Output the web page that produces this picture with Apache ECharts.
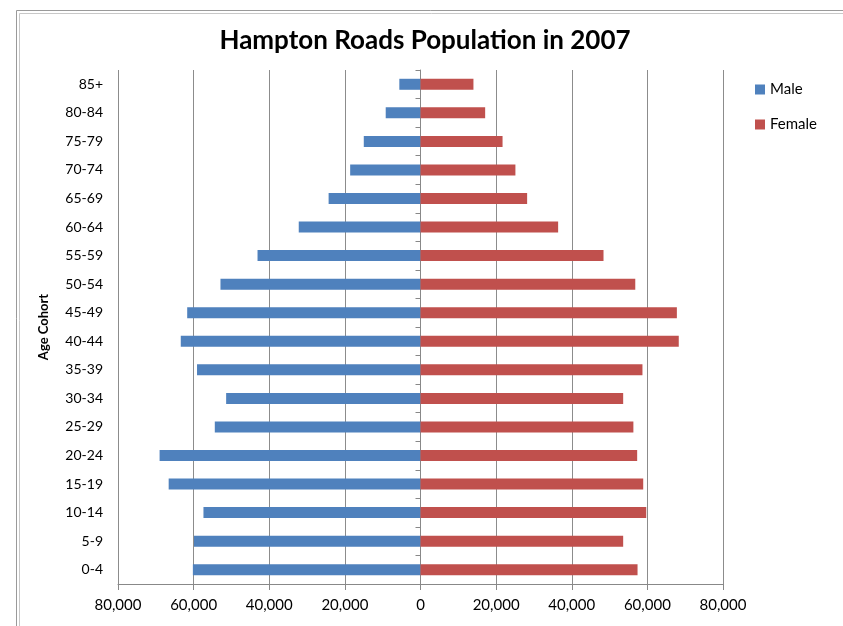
<!DOCTYPE html>
<html>
<head>
<meta charset="utf-8">
<script src="https://cdn.jsdelivr.net/npm/echarts@6/dist/echarts.min.js"></script>
<style>html,body{margin:0;padding:0;background:#fff}#c{width:843px;height:626px}</style>
</head>
<body>
<div id="c"></div>
<script>
// Categories bottom to top
var ageGroups = ['0-4','5-9','10-14','15-19','20-24','25-29','30-34','35-39','40-44','45-49','50-54','55-59','60-64','65-69','70-74','75-79','80-84','85+'];
var maleValues = [60200, 59900, 57400, 66600, 69000, 54400, 51400, 59100, 63400, 61700, 52900, 43100, 32200, 24300, 18600, 15000, 9200, 5600];
var femaleValues = [57400, 53600, 59700, 58900, 57300, 56300, 53600, 58700, 68300, 67800, 56800, 48400, 36400, 28200, 25100, 21700, 17100, 14000];
var xTicks = [-80000, -60000, -40000, -20000, 0, 20000, 40000, 60000, 80000];

var font = 'Lato, "Open Sans", sans-serif';
function fmt(v){ return Math.abs(v).toString().replace(/\B(?=(\d{3})+(?!\d))/g, ','); }

var chart = echarts.init(document.getElementById('c'));
chart.setOption({
  animation: false,
  backgroundColor: '#fff',
  textStyle: { fontFamily: font },
  graphic: [
    { type: 'rect', left: 14, top: 8, shape: { width: 840, height: 630 }, style: { fill: 'none', stroke: '#9a9a9a', lineWidth: 1 }, silent: true },
    { type: 'rect', left: 17, top: 11, shape: { width: 840, height: 630 }, style: { fill: 'none', stroke: '#c8c8c8', lineWidth: 1 }, silent: true }
  ],
  title: {
    text: 'Hampton Roads Population in 2007',
    left: 420, top: 23, textAlign: 'center',
    textStyle: { fontFamily: font, fontSize: 26, fontWeight: 'bold', color: '#000' }
  },
  legend: {
    orient: 'vertical', left: 750, top: 77,
    itemWidth: 10, itemHeight: 10, itemGap: 20,
    icon: 'rect',
    textStyle: { fontFamily: font, fontSize: 15, color: '#000' },
    data: ['Male', 'Female']
  },
  grid: { left: 118, right: 120, top: 70, bottom: 42, containLabel: false },
  xAxis: {
    type: 'value', min: xTicks[0], max: xTicks[xTicks.length-1], interval: 20000,
    axisLine: { show: true, onZero: false, lineStyle: { color: '#888', width: 1 } },
    axisTick: { show: true, length: 6, lineStyle: { color: '#888' } },
    splitLine: { show: true, lineStyle: { color: '#8c8c8c', width: 1 } },
    axisLabel: { fontFamily: font, fontSize: 15, color: '#000', margin: 14, formatter: fmt }
  },
  yAxis: [
    {
      type: 'category', data: ageGroups,
      name: 'Age Cohort', nameLocation: 'middle', nameGap: 68, nameRotate: 90,
      nameTextStyle: { fontFamily: font, fontSize: 13, fontWeight: 'bold', color: '#000' },
      axisLine: { show: false, onZero: false },
      axisTick: { show: false },
      axisLabel: { fontFamily: font, fontSize: 14, color: '#000', margin: 15 }
    },
    {
      type: 'category', data: ageGroups, position: 'left',
      axisLine: { show: true, onZero: true, lineStyle: { color: '#888', width: 1 } },
      axisTick: { show: true, length: 5, lineStyle: { color: '#888' } },
      axisLabel: { show: false },
      splitLine: { show: false }
    }
  ],
  series: [
    {
      name: 'Male', type: 'bar', yAxisIndex: 0,
      data: maleValues.map(function(v){ return -v; }),
      barWidth: 11, barGap: '-100%',
      itemStyle: { color: '#4F81BD' }
    },
    {
      name: 'Female', type: 'bar', yAxisIndex: 0,
      data: femaleValues,
      barWidth: 11, barGap: '-100%',
      itemStyle: { color: '#C0504D' }
    }
  ]
});
</script>
</body>
</html>
